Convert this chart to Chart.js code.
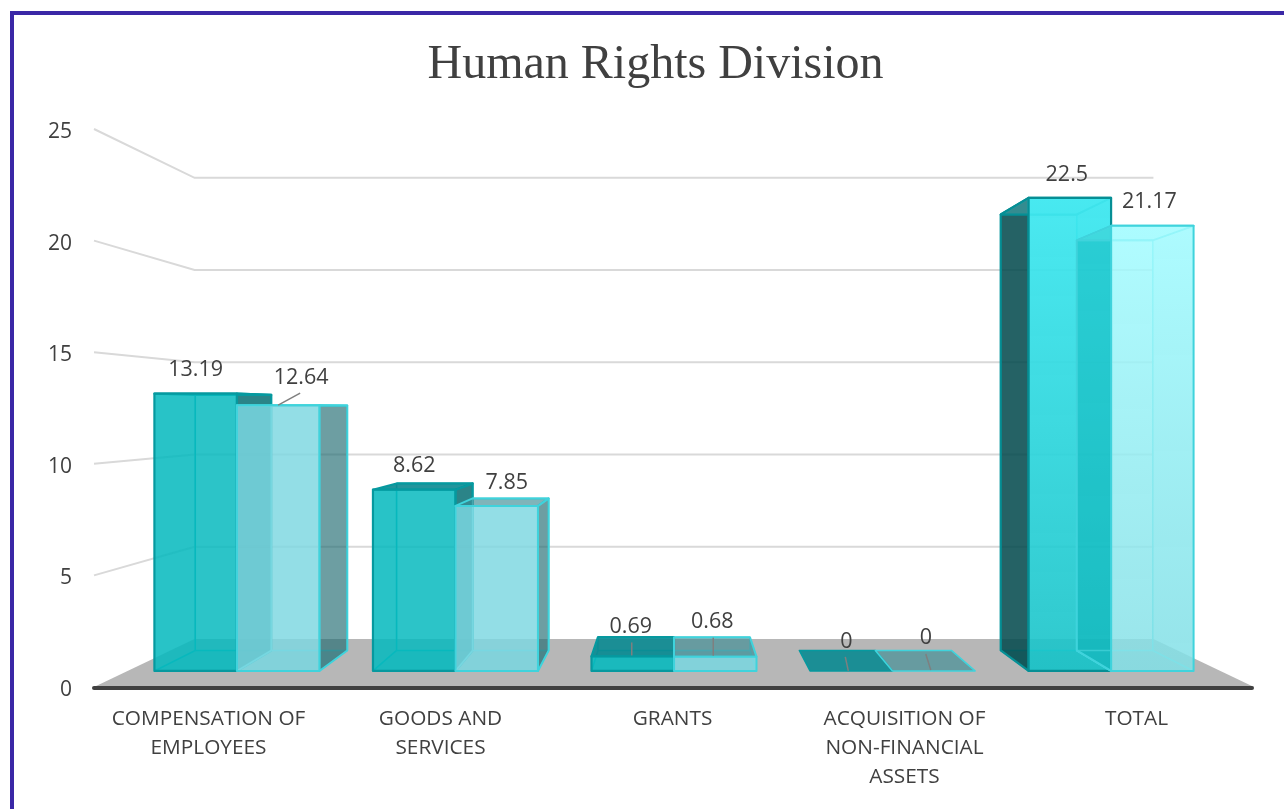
<!DOCTYPE html>
<html>
<head>
<meta charset="utf-8">
<title>Human Rights Division</title>
<script src="https://cdn.jsdelivr.net/npm/chart.js@4/dist/chart.umd.min.js"></script>
<style>
  html, body { margin: 0; background: #fff; overflow: hidden; }
  .frame { position: absolute; left: 10px; top: 11px; width: 1300px; height: 830px; border: 4px solid #3a27a6; }
  canvas { position: absolute; left: 0; top: 0; }
</style>
</head>
<body>
<div class="frame"></div>
<canvas id="chart" width="1284" height="809"></canvas>
<script>
const categories = [
  ['COMPENSATION OF', 'EMPLOYEES'],
  ['GOODS AND', 'SERVICES'],
  ['GRANTS'],
  ['ACQUISITION OF', 'NON-FINANCIAL', 'ASSETS'],
  ['TOTAL']
];
const seriesA = [13.19, 8.62, 0.69, 0, 22.5];
const seriesB = [12.64, 7.85, 0.68, 0, 21.17];
const yTicksMax = 25;
const yTickStep = 5;

// Fake perspective: everything is projected towards one vanishing point
const VP_Y = 410.3;
const S_WALL = 0.8266;
const S_FRONT = 0.942;
const S_BACK = 0.868;

const TEXT = '#404040';

const palette = [
  { // first series
    normal: { front: 'rgba(7,186,190,.85)', side: 'rgba(6,110,115,.85)', inner: 'rgba(0,170,175,.12)', top: 'rgba(10,138,145,.9)', floor: 'rgba(0,165,170,.25)', edge: '#06999f', back: '#0db2b7' },
    total: { frontTop: 'rgba(65,232,240,.95)', frontBottom: 'rgba(25,195,200,.9)', side: 'rgba(5,75,78,.87)', inner: 'rgba(0,200,205,.15)', top: 'rgba(90,240,245,.3)', floor: 'rgba(0,165,170,.3)', edge: '#068f95', back: '#1ad2d8' }
  },
  { // second series, has a white veil under the front so the bar behind it stays pale
    normal: { veil: 'rgba(255,255,255,.65)', front: 'rgba(40,190,205,.5)', side: 'rgba(31,106,112,.65)', inner: 'rgba(40,190,205,.1)', top: 'rgba(60,140,148,.65)', floor: 'rgba(40,190,205,.2)', edge: '#3fd3dc', back: '#62d6de' },
    total: { veil: 'rgba(255,255,255,.65)', frontTop: 'rgba(120,250,255,.58)', frontBottom: 'rgba(60,205,215,.52)', side: 'rgba(0,170,175,.4)', inner: 'rgba(60,205,215,.12)', top: 'rgba(130,250,255,.25)', floor: 'rgba(60,205,215,.2)', edge: '#3fd3dc', back: '#5fe3ea' }
  }
];

// label offsets from the middle of the bar's top front edge, line = leader line [x1,y1,x2,y2] from the same spot
const labelNudges = [
  [{ dx: 0, dy: -23.5 }, { dx: 23, dy: -27.5, line: [0, 0, 22, -12] }],
  [{ dx: 0, dy: -24 }, { dx: 10, dy: -23 }],
  [{ dx: -2, dy: -30, line: [-1, -1, -1, -14] }, { dx: -3, dy: -35, line: [-2, -1, -2, -19] }],
  [{ dx: -5, dy: -29.5, line: [-3, 0, -6, -14] }, { dx: -8, dy: -33.5, line: [-3, -1, -8, -17] }],
  [{ dx: -3, dy: -23.5 }, { dx: -3, dy: -23.5 }]
];

function poly(ctx, pts, fill, stroke, lw) {
  ctx.beginPath();
  pts.forEach((p, i) => { if (!i) ctx.moveTo(p[0], p[1]); else ctx.lineTo(p[0], p[1]); });
  ctx.closePath();
  if (fill) { ctx.fillStyle = fill; ctx.fill(); }
  if (stroke) { ctx.strokeStyle = stroke; ctx.lineWidth = lw || 1; ctx.lineJoin = 'round'; ctx.stroke(); }
}

const box3d = {
  id: 'box3d',
  // the y labels sit left of the box the title is centred in, keep them from being clipped
  afterLayout(chart) { chart.scales.y.left = 20; },
  beforeDatasetsDraw(chart) {
    const { ctx, chartArea: a, scales: { y } } = chart;
    const vpX = (a.left + a.right) / 2;
    const px = (x, yy, s) => [vpX + (x - vpX) * s, VP_Y + (yy - VP_Y) * s];
    ctx.save();
    // floor
    poly(ctx, [px(a.left, a.bottom, 1), px(a.left, a.bottom, S_WALL), px(a.right, a.bottom, S_WALL), px(a.right, a.bottom, 1)], '#b7b7b7');
    // walls
    ctx.strokeStyle = '#d9d9d9';
    ctx.lineWidth = 2;
    y.ticks.forEach(t => {
      if (t.value === 0) return;
      const yy = y.getPixelForValue(t.value);
      const p0 = px(a.left, yy, 1), p1 = px(a.left, yy, S_WALL), p2 = px(a.right, yy, S_WALL);
      ctx.beginPath(); ctx.moveTo(p0[0], p0[1]); ctx.lineTo(p1[0], p1[1]); ctx.lineTo(p2[0], p2[1]); ctx.stroke();
    });
    // axis line
    ctx.strokeStyle = '#404040';
    ctx.lineWidth = 4;
    ctx.lineCap = 'round';
    ctx.beginPath(); ctx.moveTo(a.left, a.bottom + 1); ctx.lineTo(a.right - 2, a.bottom + 1); ctx.stroke();
    ctx.restore();
  },
  afterDatasetsDraw(chart) {
    const { ctx, chartArea: a, scales: { y } } = chart;
    const vpX = (a.left + a.right) / 2;
    const px = (x, yy, s) => [vpX + (x - vpX) * s, VP_Y + (yy - VP_Y) * s];
    const base = y.getPixelForValue(0);
    ctx.save();
    categories.forEach((_, i) => {
      const isTotal = i === categories.length - 1;
      [0, 1].forEach(d => {
        const el = chart.getDatasetMeta(d).data[i];
        const c = palette[d][isTotal ? 'total' : 'normal'];
        const l = el.x - el.width / 2, r = el.x + el.width / 2, t = el.y;
        const fl = px(l, t, S_FRONT), fr = px(r, t, S_FRONT), fbl = px(l, base, S_FRONT), fbr = px(r, base, S_FRONT);
        const bl = px(l, t, S_BACK), br = px(r, t, S_BACK), bbl = px(l, base, S_BACK), bbr = px(r, base, S_BACK);
        const lw = d ? 2 : 2.2;
        // inside of the box first, it shows through the front
        if (t !== base) {
          poly(ctx, [bbl, bbr, fbr, fbl], c.floor);
          ctx.strokeStyle = c.back;
          ctx.lineWidth = 1.6;
          [[bl, bbl], [br, bbr], [bbl, bbr], [bbl, fbl], [bbr, fbr], [bl, br]].forEach(s => {
            ctx.beginPath(); ctx.moveTo(s[0][0], s[0][1]); ctx.lineTo(s[1][0], s[1][1]); ctx.stroke();
          });
          // side faces, the one that sticks out is the dark one
          const leftOut = bl[0] < fl[0];
          const rightOut = br[0] > fr[0];
          poly(ctx, [fl, bl, bbl, fbl], leftOut ? c.side : c.inner, leftOut ? c.edge : null, lw);
          poly(ctx, [fr, br, bbr, fbr], rightOut ? c.side : c.inner, rightOut ? c.edge : null, lw);
        }
        // top (on zero bars it is the only thing there)
        poly(ctx, [fl, bl, br, fr], c.top, c.edge, t === base ? 1.6 : lw);
        // front
        if (t !== base) {
          if (c.veil) poly(ctx, [fl, fr, fbr, fbl], c.veil);
          let fill = c.front;
          if (isTotal) {
            fill = ctx.createLinearGradient(0, fl[1], 0, fbl[1]);
            fill.addColorStop(0, c.frontTop);
            fill.addColorStop(1, c.frontBottom);
          }
          poly(ctx, [fl, fr, fbr, fbl], fill, c.edge, lw);
        }
      });
    });
    // value labels
    ctx.font = '21.5px "Open Sans"';
    ctx.fillStyle = TEXT;
    ctx.textAlign = 'center';
    ctx.textBaseline = 'middle';
    [seriesA, seriesB].forEach((vals, d) => {
      vals.forEach((v, i) => {
        const el = chart.getDatasetMeta(d).data[i];
        const p = px(el.x, el.y, S_FRONT);
        const n = labelNudges[i][d];
        if (n.line) {
          ctx.strokeStyle = '#7f7f7f';
          ctx.lineWidth = 1.5;
          ctx.beginPath();
          ctx.moveTo(p[0] + n.line[0], p[1] + n.line[1]);
          ctx.lineTo(p[0] + n.line[2], p[1] + n.line[3]);
          ctx.stroke();
        }
        ctx.fillText(String(v), p[0] + n.dx, p[1] + n.dy);
      });
    });
    ctx.restore();
  }
};

new Chart(document.getElementById('chart'), {
  type: 'bar',
  data: {
    labels: categories,
    datasets: [
      { label: 'Series 1', data: seriesA, backgroundColor: 'transparent', categoryPercentage: 0.755, barPercentage: 1 },
      { label: 'Series 2', data: seriesB, backgroundColor: 'transparent', categoryPercentage: 0.755, barPercentage: 1 }
    ]
  },
  plugins: [box3d],
  options: {
    responsive: false,
    animation: false,
    layout: { padding: { left: 57, right: 30, top: 0, bottom: 0 } },
    plugins: {
      legend: { display: false },
      tooltip: { enabled: false },
      title: {
        display: true,
        text: 'Human Rights Division',
        color: TEXT,
        font: { family: '"Liberation Serif"', size: 48, weight: 'normal', lineHeight: 1.2 },
        padding: { top: 37, bottom: 34.4 }
      }
    },
    scales: {
      x: {
        grid: { display: false },
        border: { display: false },
        afterFit(s) { s.height = 122; },
        ticks: {
          autoSkip: false,
          maxRotation: 0,
          padding: 10,
          labelOffset: -1.5,
          color: TEXT,
          font: { family: '"Open Sans"', size: 20.8, lineHeight: 1.394 }
        }
      },
      y: {
        min: 0,
        max: yTicksMax,
        grid: { display: false },
        border: { display: false },
        afterFit(s) { s.width = 37; },
        ticks: {
          stepSize: yTickStep,
          padding: 14,
          labelOffset: 3,
          color: TEXT,
          font: { family: '"Open Sans"', size: 21 }
        }
      }
    }
  }
});
</script>
</body>
</html>
